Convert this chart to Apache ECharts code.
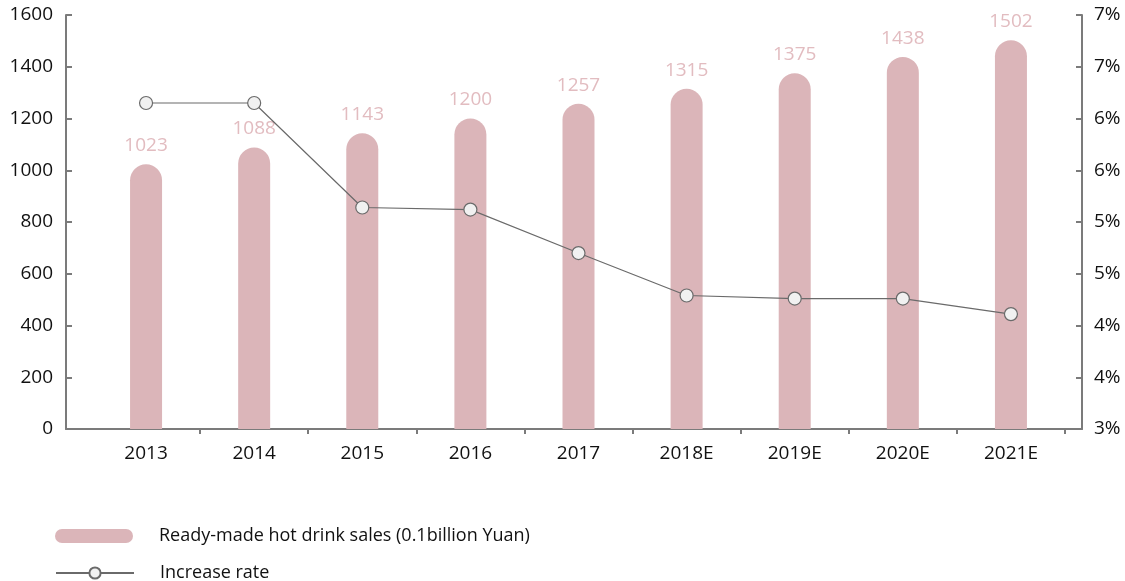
<!DOCTYPE html>
<html>
<head>
<meta charset="utf-8">
<script src="https://cdn.jsdelivr.net/npm/echarts@6/dist/echarts.min.js"></script>
<style>
html,body{margin:0;padding:0;background:#fff;}
#chart{width:1125px;height:581px;}
</style>
</head>
<body>
<div id="chart"></div>
<script>
// Categories and series values
const years = ['2013', '2014', '2015', '2016', '2017', '2018E', '2019E', '2020E', '2021E'];
const sales = [1023, 1088, 1143, 1200, 1257, 1315, 1375, 1438, 1502];
const increaseRate = [6.15, 6.15, 5.14, 5.12, 4.70, 4.29, 4.26, 4.26, 4.11];

// Axis tick labels
const salesTickLabels = ['0', '200', '400', '600', '800', '1000', '1200', '1400', '1600'];
const rateTickLabels = ['3%', '4%', '4%', '5%', '5%', '6%', '6%', '7%', '7%'];

const SALES_NAME = 'Ready-made hot drink sales (0.1billion Yuan)';
const RATE_NAME = 'Increase rate';

const FONT = '"Open Sans", sans-serif';
const AXIS_GREY = '#7b7b7b';
const TEXT = '#111111';
const BAR_PINK = '#dbb5b9';
const LABEL_PINK = '#e2bcc0';
const LINE_GREY = '#6a6a6a';

const chart = echarts.init(document.getElementById('chart'), null, { renderer: 'canvas' });

const hiddenY = (min, max, interval) => ({
  gridIndex: 1, type: 'value', min, max, interval, show: false
});

// one legend block per entry, stacked vertically
const legendBlock = (name, top, icon) => ({
  orient: 'vertical',
  left: 50,
  top,
  itemWidth: 78,
  itemHeight: 14,
  textStyle: { color: TEXT, fontSize: 18, fontFamily: FONT, padding: [0, 0, 0, 21] },
  data: [icon ? { name, icon } : { name }]
});

const option = {
  animation: false,
  backgroundColor: '#ffffff',
  textStyle: { fontFamily: FONT },
  grid: [
    // frame grid: carries the visible axis lines
    { left: 66, right: 43, top: 15, bottom: 152 },
    // plotting grid: category band inset from the frame
    { left: 92, right: 60, top: 15, bottom: 152 }
  ],
  xAxis: [
    {
      gridIndex: 0, type: 'value', min: 0, max: 1,
      axisLine: { show: true, onZero: false, lineStyle: { color: AXIS_GREY, width: 2 } },
      axisTick: { show: false }, axisLabel: { show: false }, splitLine: { show: false }
    },
    {
      gridIndex: 1, type: 'category', data: years,
      axisLine: { show: false },
      axisTick: {
        show: true, length: 5,
        interval: (i) => i > 0,
        lineStyle: { color: AXIS_GREY, width: 2 }
      },
      axisLabel: { color: TEXT, fontSize: 19, margin: 15, fontFamily: FONT },
      splitLine: { show: false }
    }
  ],
  yAxis: [
    {
      gridIndex: 0, type: 'value', position: 'left', min: 0, max: 1600, interval: 200,
      axisLine: { show: true, lineStyle: { color: AXIS_GREY, width: 2 } },
      axisTick: { show: true, inside: true, length: 6, lineStyle: { color: AXIS_GREY, width: 2 } },
      axisLabel: { color: TEXT, fontSize: 19, margin: 13, fontFamily: FONT,
        formatter: (v, i) => salesTickLabels[i] },
      splitLine: { show: false }
    },
    {
      gridIndex: 0, type: 'value', position: 'right', min: 3, max: 7, interval: 0.5,
      axisLine: { show: true, lineStyle: { color: AXIS_GREY, width: 2 } },
      axisTick: { show: true, inside: true, length: 6, lineStyle: { color: AXIS_GREY, width: 2 } },
      axisLabel: { color: TEXT, fontSize: 19, margin: 12, fontFamily: FONT,
        formatter: (v, i) => rateTickLabels[i] },
      splitLine: { show: false }
    },
    hiddenY(0, 1600, 200),
    hiddenY(3, 7, 0.5)
  ],
  legend: [
    legendBlock(SALES_NAME, 522, 'path://M7,0L71,0A7,7,0,0,1,71,14L7,14A7,7,0,0,1,7,0Z'),
    legendBlock(RATE_NAME, 559, null)
  ],
  series: [
    {
      name: SALES_NAME,
      type: 'bar',
      xAxisIndex: 1,
      yAxisIndex: 2,
      data: sales,
      barWidth: 32,
      itemStyle: { color: BAR_PINK, borderRadius: [16, 16, 0, 0] },
      label: { show: true, position: 'top', distance: 9, color: LABEL_PINK, fontSize: 19, fontFamily: FONT }
    },
    {
      name: RATE_NAME,
      type: 'line',
      xAxisIndex: 1,
      yAxisIndex: 3,
      data: increaseRate,
      symbol: 'circle',
      symbolSize: 13,
      lineStyle: { color: LINE_GREY, width: 1.2 },
      itemStyle: { color: '#f1f1f1', borderColor: LINE_GREY, borderWidth: 1.2 },
      z: 3
    }
  ]
};

chart.setOption(option);
</script>
</body>
</html>
